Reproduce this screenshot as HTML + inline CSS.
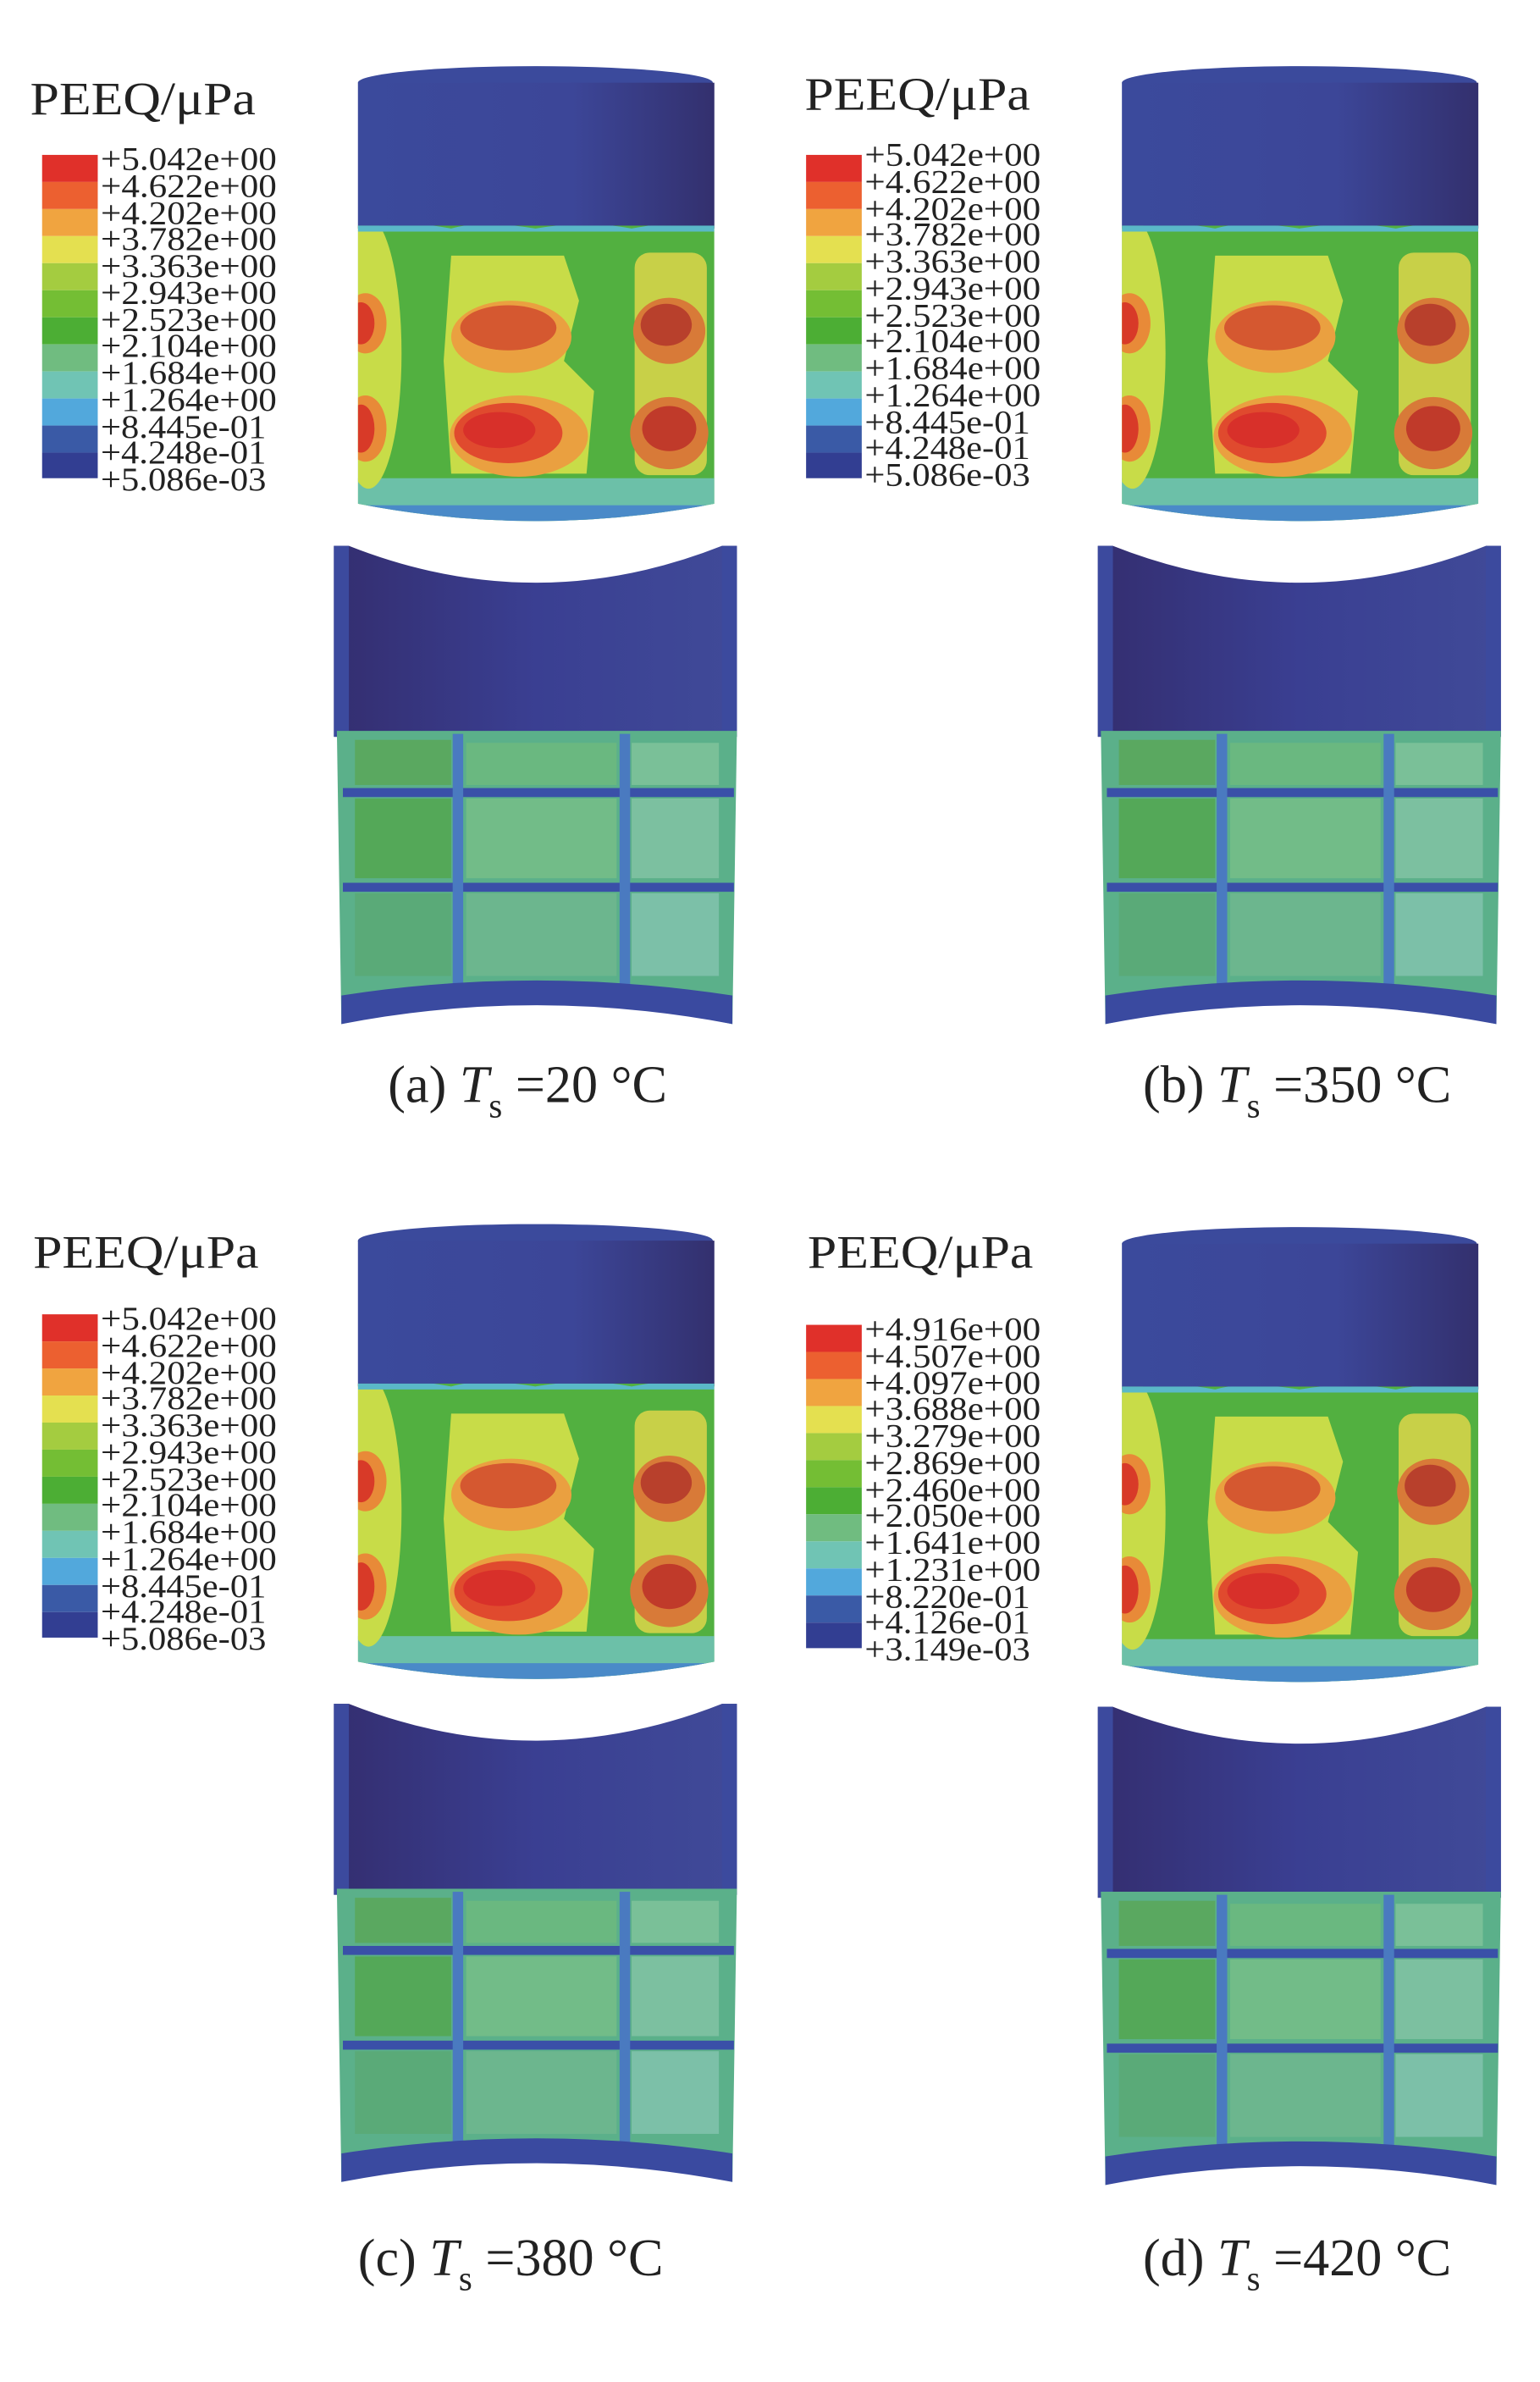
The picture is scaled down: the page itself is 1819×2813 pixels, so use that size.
<!DOCTYPE html>
<html><head><meta charset="utf-8"><style>
html,body{margin:0;padding:0;background:#fff;}
svg{display:block;}
text{font-family:"Liberation Serif",serif;fill:#222;}
</style></head><body>
<svg width="1819" height="2813" viewBox="0 0 1024 1584" preserveAspectRatio="none" xmlns="http://www.w3.org/2000/svg">
<defs>
<linearGradient id="bl" x1="0" x2="1" y1="0" y2="0">
<stop offset="0" stop-color="#3b4a9c"/><stop offset="0.6" stop-color="#3c4698"/><stop offset="1" stop-color="#33306e"/>
</linearGradient>
<linearGradient id="bl2" x1="0" x2="1" y1="0" y2="0">
<stop offset="0" stop-color="#342e70"/><stop offset="0.5" stop-color="#3a3f92"/><stop offset="1" stop-color="#404a98"/>
</linearGradient>
<clipPath id="cg"><path d="M238,150 L475,150 L475,335 Q356,358 238,335 Z"/></clipPath>
<g id="cyl">
  <ellipse cx="356" cy="55" rx="118" ry="11" fill="#3b4a9c"/>
  <rect x="238" y="55" width="237" height="97" fill="url(#bl)"/>
  <g clip-path="url(#cg)">
    <rect x="230" y="140" width="255" height="220" fill="#52b040"/>
    <rect x="230" y="318" width="255" height="40" fill="#6cc0a8"/>
    <rect x="230" y="336" width="255" height="30" fill="#4a8ac8"/>
    <ellipse cx="245" cy="235" rx="22" ry="90" fill="#c8dc48"/>
    <ellipse cx="243" cy="215" rx="14" ry="20" fill="#e88a38"/>
    <ellipse cx="243" cy="285" rx="14" ry="22" fill="#e88a38"/>
    <ellipse cx="240" cy="215" rx="9" ry="14" fill="#d83a28"/>
    <ellipse cx="240" cy="285" rx="9" ry="16" fill="#d83a28"/>
    <path d="M300,170 L375,170 L385,200 L375,240 L395,260 L390,315 L300,315 L295,240 Z" fill="#c8dc48"/>
    <ellipse cx="340" cy="224" rx="40" ry="24" fill="#eaa040"/>
    <ellipse cx="338" cy="218" rx="32" ry="15" fill="#d55830"/>
    <ellipse cx="345" cy="290" rx="46" ry="27" fill="#eaa040"/>
    <ellipse cx="338" cy="288" rx="36" ry="20" fill="#e04a2e"/>
    <ellipse cx="332" cy="286" rx="24" ry="12" fill="#d8302a"/>
    <rect x="422" y="168" width="48" height="148" rx="10" fill="#c8d048"/>
    <ellipse cx="445" cy="220" rx="24" ry="22" fill="#d87a38"/>
    <ellipse cx="443" cy="216" rx="17" ry="14" fill="#b8402c"/>
    <ellipse cx="445" cy="288" rx="26" ry="24" fill="#d87a38"/>
    <ellipse cx="445" cy="285" rx="18" ry="15" fill="#c03a2a"/>
    <path d="M238,150 Q270,146 300,152 Q320,146 356,152 Q390,146 420,152 Q450,146 475,150 L475,154 L238,154 Z" fill="#5ab8c8"/>
  </g>
  <path d="M222,363 L232,363 Q356,412 480,363 L490,363 L490,490 L222,490 Z" fill="url(#bl2)"/>
  <path d="M222,363 L232,363 L232,490 L222,490 Z" fill="#3c4a9e"/>
  <path d="M480,363 L490,363 L490,490 L480,490 Z" fill="#3c4a9e"/>
  <path d="M224,486 L490,486 L487,681 Q356,652 227,681 Z" fill="#5bb08a"/>
  <rect x="236" y="492" width="64" height="30" fill="#5aa860"/>
  <rect x="310" y="494" width="100" height="28" fill="#6ab880"/>
  <rect x="420" y="494" width="58" height="28" fill="#7ac098"/>
  <rect x="236" y="531" width="64" height="53" fill="#54a858"/>
  <rect x="310" y="531" width="100" height="53" fill="#72bc88"/>
  <rect x="420" y="531" width="58" height="53" fill="#7cc0a0"/>
  <rect x="236" y="594" width="64" height="55" fill="#5aaa78"/>
  <rect x="310" y="594" width="100" height="55" fill="#6cb68e"/>
  <rect x="420" y="594" width="58" height="55" fill="#7cc0a8"/>
  <path d="M228,524 L488,524 L488,530 L228,530 Z" fill="#3a50a8"/>
  <path d="M228,587 L488,587 L488,593 L228,593 Z" fill="#3a50a8"/>
  <rect x="301" y="488" width="7" height="170" fill="#4a7ac0"/>
  <rect x="412" y="488" width="7" height="170" fill="#4a7ac0"/>
  <path d="M227,662 Q356,642 487,662 L487,681 Q356,656 227,681 Z" fill="#3a4aa0"/>
</g>
<g id="leg">
<rect x="28" y="103" width="37" height="18" fill="#e0302a"/>
<rect x="28" y="121" width="37" height="18" fill="#ec6030"/>
<rect x="28" y="139" width="37" height="18" fill="#f0a440"/>
<rect x="28" y="157" width="37" height="18" fill="#e4e050"/>
<rect x="28" y="175" width="37" height="18" fill="#a4cc40"/>
<rect x="28" y="193" width="37" height="18" fill="#74be34"/>
<rect x="28" y="211" width="37" height="18" fill="#4cae34"/>
<rect x="28" y="229" width="37" height="18" fill="#70bc80"/>
<rect x="28" y="247" width="37" height="18" fill="#70c4b4"/>
<rect x="28" y="265" width="37" height="18" fill="#52a8dc"/>
<rect x="28" y="283" width="37" height="18" fill="#3a5aa6"/>
<rect x="28" y="301" width="37" height="17" fill="#323e92"/>
</g>
</defs>

<use href="#cyl"/>
<use href="#cyl" transform="translate(508,0)"/>
<use href="#cyl" transform="translate(0,770)"/>
<use href="#cyl" transform="translate(508,772)"/>

<use href="#leg"/>
<use href="#leg" transform="translate(508,0)"/>
<use href="#leg" transform="translate(0,771)"/>
<use href="#leg" transform="translate(508,778)"/>

<g font-size="31"><text x="20" y="76" textLength="150" lengthAdjust="spacingAndGlyphs">PEEQ/μPa</text><text x="535" y="73" textLength="150" lengthAdjust="spacingAndGlyphs">PEEQ/μPa</text><text x="22" y="843" textLength="150" lengthAdjust="spacingAndGlyphs">PEEQ/μPa</text><text x="537" y="843" textLength="150" lengthAdjust="spacingAndGlyphs">PEEQ/μPa</text></g>

<g id="l1" font-size="22">
<text x="67" y="113" textLength="117" lengthAdjust="spacingAndGlyphs">+5.042e+00</text><text x="67" y="131" textLength="117" lengthAdjust="spacingAndGlyphs">+4.622e+00</text><text x="67" y="149" textLength="117" lengthAdjust="spacingAndGlyphs">+4.202e+00</text><text x="67" y="166" textLength="117" lengthAdjust="spacingAndGlyphs">+3.782e+00</text><text x="67" y="184" textLength="117" lengthAdjust="spacingAndGlyphs">+3.363e+00</text><text x="67" y="202" textLength="117" lengthAdjust="spacingAndGlyphs">+2.943e+00</text><text x="67" y="220" textLength="117" lengthAdjust="spacingAndGlyphs">+2.523e+00</text><text x="67" y="237" textLength="117" lengthAdjust="spacingAndGlyphs">+2.104e+00</text><text x="67" y="255" textLength="117" lengthAdjust="spacingAndGlyphs">+1.684e+00</text><text x="67" y="273" textLength="117" lengthAdjust="spacingAndGlyphs">+1.264e+00</text><text x="67" y="291" textLength="110" lengthAdjust="spacingAndGlyphs">+8.445e-01</text><text x="67" y="308" textLength="110" lengthAdjust="spacingAndGlyphs">+4.248e-01</text><text x="67" y="326" textLength="110" lengthAdjust="spacingAndGlyphs">+5.086e-03</text>
</g>
<use href="#l1" transform="translate(508,-3)"/>
<use href="#l1" transform="translate(0,771)"/>
<g font-size="22" transform="translate(508,778)">
<text x="67" y="113" textLength="117" lengthAdjust="spacingAndGlyphs">+4.916e+00</text><text x="67" y="131" textLength="117" lengthAdjust="spacingAndGlyphs">+4.507e+00</text><text x="67" y="149" textLength="117" lengthAdjust="spacingAndGlyphs">+4.097e+00</text><text x="67" y="166" textLength="117" lengthAdjust="spacingAndGlyphs">+3.688e+00</text><text x="67" y="184" textLength="117" lengthAdjust="spacingAndGlyphs">+3.279e+00</text><text x="67" y="202" textLength="117" lengthAdjust="spacingAndGlyphs">+2.869e+00</text><text x="67" y="220" textLength="117" lengthAdjust="spacingAndGlyphs">+2.460e+00</text><text x="67" y="237" textLength="117" lengthAdjust="spacingAndGlyphs">+2.050e+00</text><text x="67" y="255" textLength="117" lengthAdjust="spacingAndGlyphs">+1.641e+00</text><text x="67" y="273" textLength="117" lengthAdjust="spacingAndGlyphs">+1.231e+00</text><text x="67" y="291" textLength="110" lengthAdjust="spacingAndGlyphs">+8.220e-01</text><text x="67" y="308" textLength="110" lengthAdjust="spacingAndGlyphs">+4.126e-01</text><text x="67" y="326" textLength="110" lengthAdjust="spacingAndGlyphs">+3.149e-03</text>
</g>

<g font-size="35">
<text x="258" y="733">(a) <tspan font-style="italic">T</tspan><tspan font-size="23" dy="10">s</tspan><tspan dy="-10"> =20 °C</tspan></text>
<text x="760" y="733">(b) <tspan font-style="italic">T</tspan><tspan font-size="23" dy="10">s</tspan><tspan dy="-10"> =350 °C</tspan></text>
<text x="238" y="1513">(c) <tspan font-style="italic">T</tspan><tspan font-size="23" dy="10">s</tspan><tspan dy="-10"> =380 °C</tspan></text>
<text x="760" y="1513">(d) <tspan font-style="italic">T</tspan><tspan font-size="23" dy="10">s</tspan><tspan dy="-10"> =420 °C</tspan></text>
</g>
</svg>
</body></html>
